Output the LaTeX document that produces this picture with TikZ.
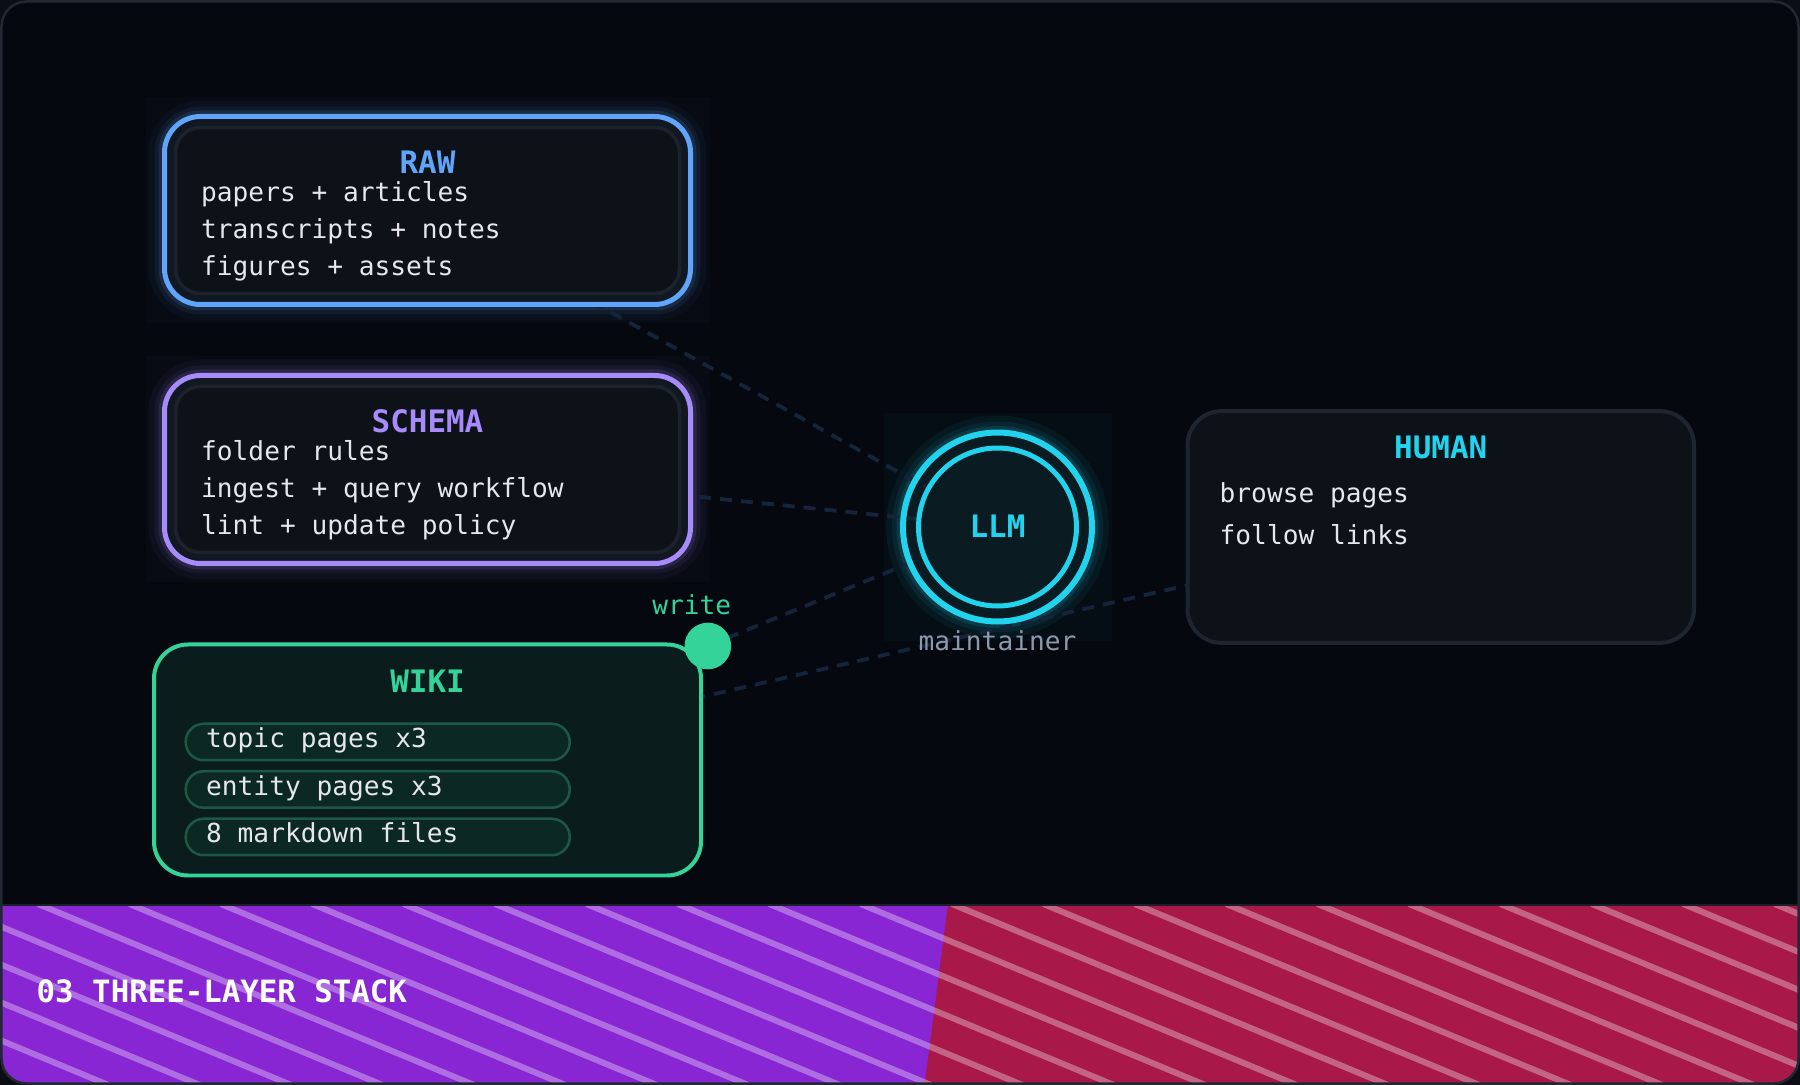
\documentclass[tikz,border=0pt]{standalone}
\usepackage{fontspec}
\setmonofont{DejaVu Sans Mono}
\usetikzlibrary{positioning}

\definecolor{outerdark}{HTML}{0B0E14}
\definecolor{bgdark}{HTML}{05080F}
\definecolor{framegray}{HTML}{222831}
\definecolor{boxfill}{HTML}{0D1118}
\definecolor{boxrim}{HTML}{121821}
\definecolor{rimline}{HTML}{1C232C}
\definecolor{rawblue}{HTML}{60A5FA}
\definecolor{schemapurple}{HTML}{A78BFA}
\definecolor{wikigreen}{HTML}{34D399}
\definecolor{wikifill}{HTML}{0A1C1B}
\definecolor{pillfill}{HTML}{0C2823}
\definecolor{pillline}{HTML}{1C5846}
\definecolor{llmcyan}{HTML}{22D3EE}
\definecolor{llmfill}{HTML}{0A1B21}
\definecolor{humanline}{HTML}{1D2630}
\definecolor{linkblue}{HTML}{15243A}
\definecolor{textlight}{HTML}{E5E7EB}
\definecolor{textgray}{HTML}{8D99AB}
\definecolor{bandpurple}{HTML}{8726D2}
\definecolor{bandred}{HTML}{A8194A}
\definecolor{bandedge}{HTML}{1A1F27}

\pgfdeclarelayer{back}
\pgfdeclarelayer{links}
\pgfsetlayers{back,links,main}

\tikzset{
    boxtitle/.style={font=\ttfamily\bfseries\fontsize{8.8}{10}\selectfont, inner sep=0, anchor=base},
    boxline/.style={font=\ttfamily\fontsize{7.45}{9}\selectfont, text=textlight, inner sep=0, anchor=base west},
    layerbox/.style={rectangle, rounded corners=3.6mm, draw=#1, line width=0.5mm, fill=boxrim,
        minimum width=52.6mm, minimum height=18.8mm, inner sep=0, outer sep=0},
    innerrim/.style={rounded corners=2.5mm, draw=rimline, line width=0.35mm, fill=boxfill},
    wikibox/.style={rectangle, rounded corners=3.4mm, draw=wikigreen, line width=0.4mm, fill=wikifill,
        minimum width=54.7mm, minimum height=23.1mm, inner sep=0, outer sep=0},
    humanbox/.style={rectangle, rounded corners=3.4mm, draw=humanline, line width=0.4mm, fill=boxfill,
        minimum width=50.65mm, minimum height=23.17mm, inner sep=0, outer sep=0},
    pill/.style={rectangle, rounded corners=1.8mm, draw=pillline, line width=0.25mm, fill=pillfill,
        minimum width=38.4mm, minimum height=3.65mm, inner sep=0, outer sep=0, anchor=west},
    llmring/.style={circle, minimum size=18.9mm, draw=llmcyan, line width=0.6mm, inner sep=0, outer sep=0},
    llmcore/.style={circle, minimum size=15.8mm, draw=llmcyan, line width=0.5mm, fill=llmfill, inner sep=0},
    writedot/.style={circle, minimum size=4.66mm, fill=wikigreen, inner sep=0},
    link/.style={draw=linkblue, line width=0.38mm, dash pattern=on 1.2mm off 0.9mm},
    bandtitle/.style={font=\ttfamily\bfseries\fontsize{8.75}{10}\selectfont, text=white, inner sep=0, anchor=base west},
}

\begin{document}
\begin{tikzpicture}[x=0.1mm, y=-0.1mm]
    \useasboundingbox (0,0) rectangle (1800,1085);

    \node[layerbox=rawblue] (raw) at (427.5,210.5) {};
    \node[layerbox=schemapurple, below=7.1mm of raw] (schema) {};
    \node[wikibox, below=8.1mm of schema] (wiki) {};
    \node[llmring] (llm) at (997.5,527) {};
    \node[llmcore] (core) at (llm.center) {};
    \node[humanbox, right=9.55mm of llm] (human) {};
    \node[writedot] (write) at ([xshift=0.68mm, yshift=-0.15mm]wiki.north east) {};

    \draw[innerrim] ([shift={(11,11)}]raw.north west) rectangle ([shift={(-11,-11)}]raw.south east);
    \draw[innerrim] ([shift={(11,11)}]schema.north west) rectangle ([shift={(-11,-11)}]schema.south east);

    % titles
    \node[boxtitle, text=rawblue] (rawtitle) at ([yshift=-5.75mm]raw.north) {RAW};
    \node[boxtitle, text=schemapurple] (schematitle) at ([yshift=-5.75mm]schema.north) {SCHEMA};
    \node[boxtitle, text=wikigreen] (wikititle) at ([yshift=-4.82mm]wiki.north) {WIKI};
    \node[boxtitle, text=llmcyan] (humantitle) at ([yshift=-4.77mm]human.north) {HUMAN};
    \node[boxtitle, text=llmcyan] (llmtitle) at ([yshift=-1.03mm]llm.center) {LLM};

    \foreach \t [count=\i from 0] in {papers + articles, transcripts + notes, figures + assets}
        \node[boxline] (raw-\i) at ([xshift=3.6mm, yshift={-8.55mm-3.67mm*\i}]raw.north west) {\t};
    \foreach \t [count=\i from 0] in {folder rules, ingest + query workflow, lint + update policy}
        \node[boxline] (schema-\i) at ([xshift=3.6mm, yshift={-8.55mm-3.67mm*\i}]schema.north west) {\t};
    \foreach \t [count=\i from 0] in {browse pages, follow links}
        \node[boxline] (human-\i) at ([xshift=3.15mm, yshift={-9.14mm-4.23mm*\i}]human.north west) {\t};
    \foreach \t [count=\i from 0] in {topic pages x3, entity pages x3, 8 markdown files} {
        \node[pill] (pill-\i) at ([xshift=3.17mm, yshift={-9.75mm-4.75mm*\i}]wiki.north west) {};
        \node[boxline] (item-\i) at ([xshift=1.98mm, yshift=-0.57mm]pill-\i.west) {\t};
    }

    \node[boxline, text=wikigreen, anchor=base] (writelabel) at ([xshift=-1.6mm, yshift=3.17mm]write.center) {write};
    \node[boxline, text=textgray, anchor=base] (maintainer) at ([yshift=-12.3mm]llm.center) {maintainer};

    \begin{pgfonlayer}{links}
        \draw[link] (raw.center) -- (llm.center);
        \draw[link] (schema.center) -- (llm.center);
        \draw[link] (write.center) -- (llm.center);
        \draw[link] (wiki.center) -- (human.center);
    \end{pgfonlayer}

    \begin{pgfonlayer}{back}
        \fill[outerdark] (0,0) rectangle (1800,1085);
        \fill[bgdark, rounded corners=2.5mm] (1.5,1.5) rectangle (1798.5,1083.5);
        \foreach \lay/\col in {raw/rawblue, schema/schemapurple} {
            \fill[\col, opacity=0.025] ([shift={(-19,-19)}]\lay.north west) rectangle ([shift={(19,19)}]\lay.south east);
            \foreach \w/\o in {3.2mm/0.04, 2mm/0.07, 1.2mm/0.12}
                \draw[\col, line width=\w, opacity=\o, rounded corners=3.6mm] (\lay.north west) rectangle (\lay.south east);
        }
        \fill[llmcyan, opacity=0.03] ([shift={(-114,-114)}]llm.center) rectangle ([shift={(114,114)}]llm.center);
        \foreach \w/\o in {3.4mm/0.05, 2.2mm/0.08, 1.3mm/0.12}
            \draw[llmcyan, line width=\w, opacity=\o] (llm.center) circle[radius=9.45mm];
        \fill[llmfill] (llm.center) circle[radius=9.45mm];
    \end{pgfonlayer}

    % bottom band
    \begin{scope}
        \clip[rounded corners=2.5mm] (1.5,1.5) rectangle (1798.5,1083.5);
        \clip (0,904) rectangle (1800,1085);
        \fill[bandpurple] (0,904) rectangle (1800,1085);
        \fill[bandred] (948,904) -- (1800,904) -- (1800,1085) -- (924.6,1085) -- cycle;
        \foreach \k in {-5,...,19}
            \draw[white, opacity=0.33, line width=0.6mm] ({38+91.4*\k},904) -- ++(436,181);
        \draw[bandedge, line width=0.3mm] (0,904) -- (1800,904);
    \end{scope}
    \draw[framegray, line width=0.25mm, rounded corners=2.5mm] (1.5,1.5) rectangle (1798.5,1083.5);
    \node[bandtitle] (stacklabel) at (36,1002.7) {03 THREE-LAYER STACK};
\end{tikzpicture}
\end{document}
